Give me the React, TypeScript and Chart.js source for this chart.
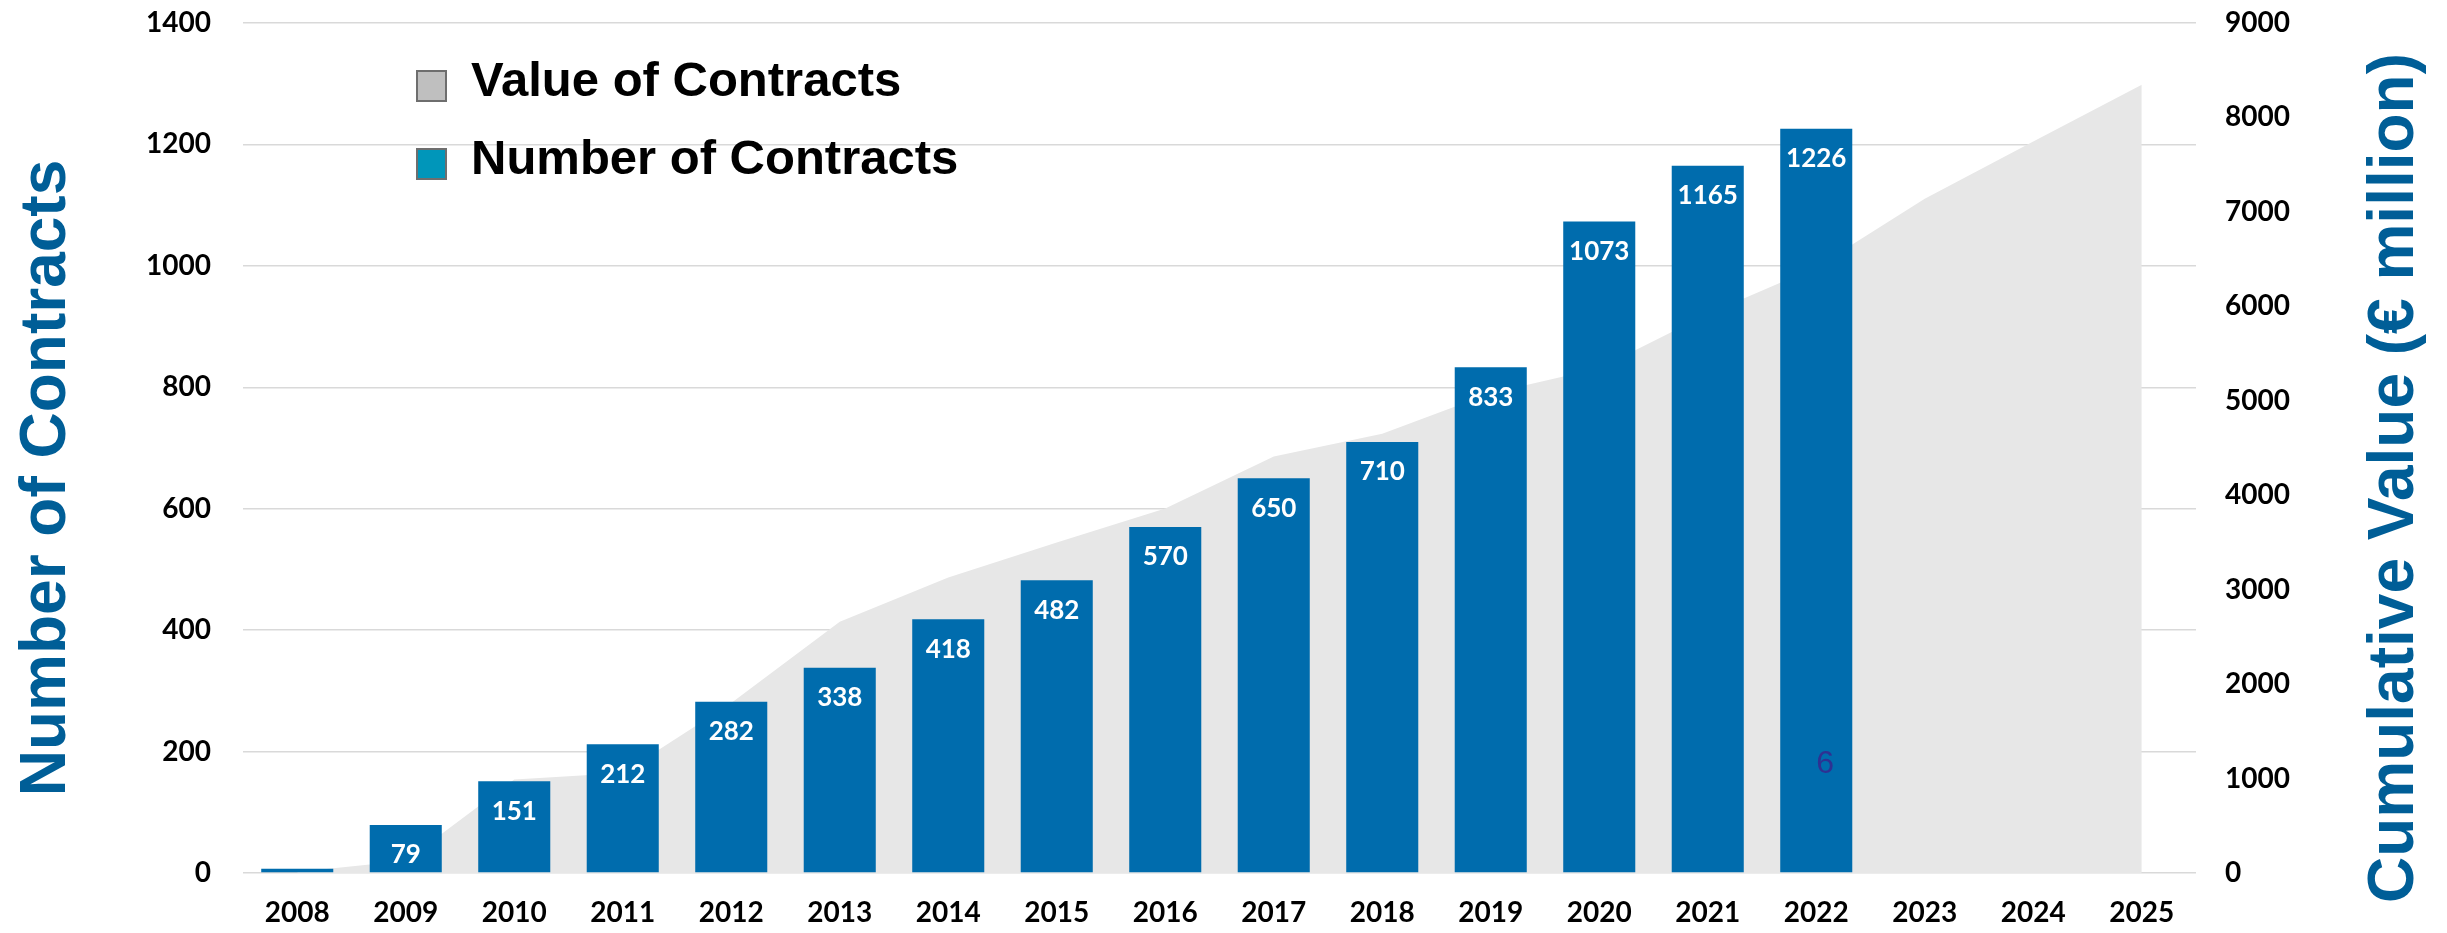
import React, { useEffect, useRef } from 'react';
import { Chart, registerables } from 'chart.js';

Chart.register(...registerables);

// ---- data ----
const years = ['2008', '2009', '2010', '2011', '2012', '2013', '2014', '2015', '2016', '2017', '2018', '2019', '2020', '2021', '2022', '2023', '2024', '2025'];
const numberOfContracts = [7, 79, 151, 212, 282, 338, 418, 482, 570, 650, 710, 833, 1073, 1165, 1226, null, null, null];
const cumulativeValue = [10, 130, 990, 1060, 1800, 2660, 3130, 3500, 3860, 4410, 4650, 5080, 5345, 5920, 6415, 7140, 7745, 8345];
const seriesLabels = ['Value of Contracts', 'Number of Contracts'];
const axisTitles = ['Number of Contracts', 'Cumulative Value (€ million)'];
const leftAxisRange = [0, 1400, 200];
const rightAxisRange = [0, 9000, 1000];
const pageNote = '6';

// ---- styles ----
const BAR_COLOR = '#006CAD';
const AREA_COLOR = '#E7E7E7';
const TITLE_COLOR = '#005E97';
const GRID_COLOR = '#D9D9D9';
const legendColors = ['#BFBFBF', '#0096BA'];
const TICK_FONT = { family: 'Lato', weight: 'bold' as const, size: 28 };

const barLabelPlugin = {
  id: 'barLabels',
  afterDatasetsDraw(chart: any) {
    const meta = chart.getDatasetMeta(1);
    const ctx = chart.ctx;
    ctx.save();
    ctx.font = 'bold 26px Lato';
    ctx.fillStyle = '#FFFFFF';
    ctx.textAlign = 'center';
    ctx.textBaseline = 'middle';
    meta.data.forEach((el: any, i: number) => {
      const v = chart.data.datasets[1].data[i];
      if (v == null) return;
      const p = el.getProps(['x', 'y', 'base'], true);
      if (p.base - p.y < 30) return;
      const ty = Math.min(p.y + 30, p.base - 11);
      ctx.fillText(String(v), p.x, ty);
    });
    // page note
    const xs = chart.scales.x;
    const ys = chart.scales.y;
    ctx.font = '32px "Liberation Sans"';
    ctx.fillStyle = '#2E3192';
    ctx.fillText(pageNote, xs.getPixelForValue(14) + 9, ys.getPixelForValue(180));
    ctx.restore();
  },
};

const titlesLegendPlugin = {
  id: 'titlesLegend',
  afterDraw(chart: any) {
    const ctx = chart.ctx;
    const ca = chart.chartArea;
    ctx.save();
    // axis titles
    ctx.font = 'bold 64px "Liberation Sans"';
    ctx.fillStyle = TITLE_COLOR;
    ctx.textAlign = 'center';
    ctx.textBaseline = 'alphabetic';
    const cy = (ca.top + chart.height) / 2;
    ctx.save();
    ctx.translate(ca.left - 178, cy);
    ctx.rotate(-Math.PI / 2);
    ctx.fillText(axisTitles[0], 0, 0);
    ctx.restore();
    ctx.save();
    ctx.translate(ca.right + 217, cy);
    ctx.rotate(-Math.PI / 2);
    ctx.fillText(axisTitles[1], 0, 0);
    ctx.restore();

    // legend
    const x0 = ca.left + 174;
    const tops = [ca.top + 48, ca.top + 126];
    ctx.font = 'bold 49px "Liberation Sans"';
    ctx.textAlign = 'left';
    chart.data.datasets.forEach((ds: any, i: number) => {
      const t = tops[i];
      ctx.fillStyle = legendColors[i];
      ctx.fillRect(x0, t, 29, 30);
      ctx.strokeStyle = '#6E6E6E';
      ctx.lineWidth = 2;
      ctx.strokeRect(x0, t, 29, 30);
      ctx.fillStyle = '#000000';
      ctx.fillText(ds.label, x0 + 54, t + 24.5);
    });
    ctx.restore();
  },
};

export default function App() {
  const canvasRef = useRef<HTMLCanvasElement | null>(null);

  useEffect(() => {
    document.body.style.margin = '0';
    document.body.style.overflow = 'hidden';
    const canvas = canvasRef.current;
    if (!canvas) return;
    const chart = new Chart(canvas, {
      type: 'bar',
      data: {
        labels: years,
        datasets: [
          {
            type: 'line',
            label: seriesLabels[0],
            data: cumulativeValue,
            yAxisID: 'y1',
            fill: 'origin',
            backgroundColor: AREA_COLOR,
            borderWidth: 0,
            borderColor: AREA_COLOR,
            pointRadius: 0,
            tension: 0,
            order: 2,
          } as any,
          {
            type: 'bar',
            label: seriesLabels[1],
            data: numberOfContracts,
            yAxisID: 'y',
            backgroundColor: BAR_COLOR,
            borderWidth: 0,
            barPercentage: 0.664,
            categoryPercentage: 1.0,
            order: 1,
          } as any,
        ],
      },
      options: {
        animation: false,
        responsive: true,
        maintainAspectRatio: false,
        layout: { padding: { left: 143, right: 151, top: 23, bottom: 0 } },
        plugins: {
          legend: { display: false },
          tooltip: { enabled: false },
        },
        scales: {
          x: {
            type: 'category',
            offset: true,
            grid: { display: false, drawTicks: false },
            border: { display: false },
            ticks: { font: TICK_FONT, color: '#000000', padding: 23, maxRotation: 0, autoSkip: false },
            afterFit: (s: any) => { s.height = 60; },
          },
          y: {
            position: 'left',
            min: leftAxisRange[0],
            max: leftAxisRange[1],
            ticks: { stepSize: leftAxisRange[2], font: TICK_FONT, color: '#000000', padding: 0, callback: (v: any) => String(v) },
            grid: { color: GRID_COLOR, lineWidth: 1.5, drawTicks: true, tickLength: 32, tickColor: 'rgba(0,0,0,0)' },
            border: { display: false },
            afterFit: (s: any) => { s.width = 100; },
          },
          y1: {
            position: 'right',
            min: rightAxisRange[0],
            max: rightAxisRange[1],
            ticks: { stepSize: rightAxisRange[2], font: TICK_FONT, color: '#000000', padding: 0, callback: (v: any) => String(v) },
            grid: { display: true, drawOnChartArea: false, color: 'rgba(0,0,0,0)', drawTicks: true, tickLength: 29, tickColor: 'rgba(0,0,0,0)' },
            border: { display: false },
            afterFit: (s: any) => { s.width = 100; },
          },
        },
      } as any,
      plugins: [barLabelPlugin, titlesLegendPlugin],
    });
    return () => chart.destroy();
  }, []);

  return (
    <div style={{ position: 'relative', width: 2447, height: 933 }}>
      <canvas ref={canvasRef} />
    </div>
  );
}
